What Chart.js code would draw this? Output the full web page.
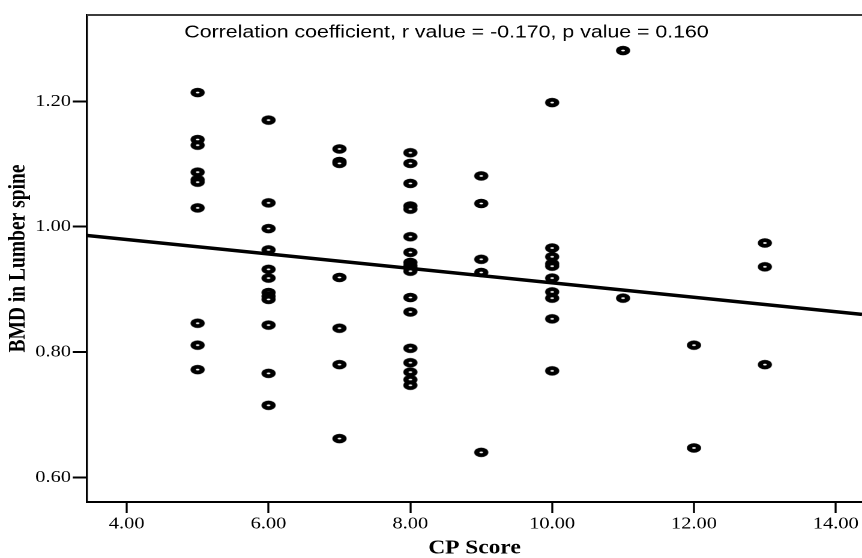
<!DOCTYPE html>
<html>
<head>
<meta charset="utf-8">
<script src="https://cdn.jsdelivr.net/npm/chart.js@4.4.1/dist/chart.umd.min.js"></script>
<style>
    html, body { margin: 0; padding: 0; background: #fff; overflow: hidden; }
    /* the source figure is stretched sideways, so the whole chart is drawn narrower and widened */
    #wrap { width: 718px; height: 558px; transform: scaleX(1.2006); transform-origin: 0 0; }
</style>
</head>
<body>
<div id="wrap"><canvas id="chart"></canvas></div>
<script>
const STRETCH = 1.2006;
const SERIF = '"Liberation Serif", "Times New Roman", serif';

// CP score / BMD pairs, one line per score
const cpScore = [
    5, 5, 5, 5, 5, 5, 5, 5, 5, 5,
    6, 6, 6, 6, 6, 6, 6, 6, 6, 6, 6, 6,
    7, 7, 7, 7, 7, 7, 7,
    8, 8, 8, 8, 8, 8, 8, 8, 8, 8, 8, 8, 8, 8, 8, 8, 8, 8,
    9, 9, 9, 9, 9,
    10, 10, 10, 10, 10, 10, 10, 10, 10, 10,
    11, 11,
    12, 12,
    13, 13, 13
];
const bmdSpine = [
    1.214, 1.139, 1.130, 1.087, 1.075, 1.071, 1.030, 0.846, 0.811, 0.772,
    1.170, 1.038, 0.997, 0.963, 0.932, 0.918, 0.895, 0.889, 0.884, 0.843, 0.766, 0.715,
    1.124, 1.104, 1.101, 0.919, 0.838, 0.780, 0.662,
    1.118, 1.101, 1.069, 1.033, 1.028, 0.984, 0.959, 0.943, 0.938, 0.934, 0.929, 0.887, 0.864, 0.806, 0.783, 0.768, 0.756, 0.747,
    1.081, 1.037, 0.948, 0.927, 0.640,
    1.198, 0.966, 0.952, 0.941, 0.937, 0.918, 0.896, 0.886, 0.853, 0.770,
    1.281, 0.886,
    0.811, 0.647,
    0.974, 0.936, 0.780
];

// fitted line, read at both ends of the plot
const fitLineX = [3.44, 14.37];
const fitLineY = [0.986, 0.860];

const xTickValues = [4, 6, 8, 10, 12, 14];
const yTickValues = [0.6, 0.8, 1.0, 1.2];
const xRange = [3.44, 14.37];
const yRange = [0.5608, 1.3377];

const noteText = 'Correlation coefficient, r value = -0.170, p value = 0.160';
const noteAt = [8.51, 1.302];

// hollow elliptical marker, drawn at 2x for the 2x canvas
function makeMarker() {
    const c = document.createElement('canvas');
    c.width = 26;
    c.height = 22;
    const g = c.getContext('2d');
    g.fillStyle = '#000';
    g.beginPath();
    g.ellipse(13, 11, 11.8, 9.6, 0, 0, Math.PI * 2);
    g.fill();
    g.fillStyle = '#fff';
    g.beginPath();
    g.ellipse(13, 11, 3.0, 1.7, 0, 0, Math.PI * 2);
    g.fill();
    const img = new Image();
    img.width = 13;
    img.height = 11;
    img.src = c.toDataURL();
    return img;
}

const frame = {
    id: 'frame',
    beforeDatasetsDraw(chart) {
        const { ctx, chartArea: a } = chart;
        ctx.save();
        ctx.strokeStyle = '#3c3c3c';
        ctx.lineWidth = 2;
        ctx.beginPath();
        ctx.moveTo(a.left, a.top);
        ctx.lineTo(a.right, a.top);
        ctx.stroke();
        ctx.restore();
    },
    afterDraw(chart) {
        const { ctx, scales } = chart;
        ctx.save();
        ctx.fillStyle = '#000';
        ctx.font = '17.75px "Liberation Sans", Arial, sans-serif';
        ctx.textAlign = 'center';
        ctx.textBaseline = 'alphabetic';
        ctx.fillText(noteText, scales.x.getPixelForValue(noteAt[0]), scales.y.getPixelForValue(noteAt[1]));
        ctx.restore();
    }
};

function drawChart(marker) {
    new Chart(document.getElementById('chart'), {
        type: 'scatter',
        data: {
            datasets: [
                {
                    data: fitLineX.map((x, i) => ({ x: x, y: fitLineY[i] })),
                    showLine: true,
                    borderColor: '#000',
                    borderWidth: 3.5,
                    pointRadius: 0,
                    order: 2
                },
                {
                    data: cpScore.map((x, i) => ({ x: x, y: bmdSpine[i] })),
                    pointStyle: marker,
                    order: 1
                }
            ]
        },
        options: {
            animation: false,
            responsive: true,
            maintainAspectRatio: false,
            devicePixelRatio: 2,
            events: [],
            layout: { autoPadding: false, padding: { top: 15, right: 0, bottom: 0, left: 0 } },
            plugins: {
                legend: { display: false },
                tooltip: { enabled: false }
            },
            scales: {
                x: {
                    type: 'linear',
                    min: xRange[0],
                    max: xRange[1],
                    afterBuildTicks: s => { s.ticks = xTickValues.map(v => ({ value: v })); },
                    afterFit: s => { s.height = 56; },
                    ticks: {
                        autoSkip: false,
                        maxRotation: 0,
                        padding: 1,
                        color: '#000',
                        font: { family: SERIF, size: 17 },
                        callback: v => v.toFixed(2)
                    },
                    grid: {
                        drawOnChartArea: false,
                        tickLength: 11,
                        tickWidth: 2 / STRETCH,
                        tickColor: '#000'
                    },
                    border: { display: true, color: '#000', width: 2 },
                    title: {
                        display: true,
                        text: 'CP Score',
                        color: '#000',
                        font: { family: SERIF, size: 19.5, weight: 'bold', lineHeight: 1 },
                        padding: { top: 0, bottom: 0 }
                    }
                },
                y: {
                    type: 'linear',
                    min: yRange[0],
                    max: yRange[1],
                    afterBuildTicks: s => { s.ticks = yTickValues.map(v => ({ value: v })); },
                    afterFit: s => { s.width = 87 / STRETCH; },
                    ticks: {
                        padding: 1.5,
                        color: '#000',
                        font: { family: SERIF, size: 17 },
                        callback: v => v.toFixed(2)
                    },
                    grid: {
                        drawOnChartArea: false,
                        tickLength: 11.9,
                        tickWidth: 2,
                        tickColor: '#000'
                    },
                    border: { display: true, color: '#000', width: 2 / STRETCH },
                    title: {
                        display: true,
                        text: 'BMD in Lumber spine',
                        color: '#000',
                        font: { family: SERIF, size: 19.5, weight: 'bold', lineHeight: 1 },
                        padding: { top: 5.6, bottom: 0 }
                    }
                }
            }
        },
        plugins: [frame]
    });
}

const marker = makeMarker();
marker.decode().then(() => drawChart(marker), () => drawChart(marker));
</script>
</body>
</html>
